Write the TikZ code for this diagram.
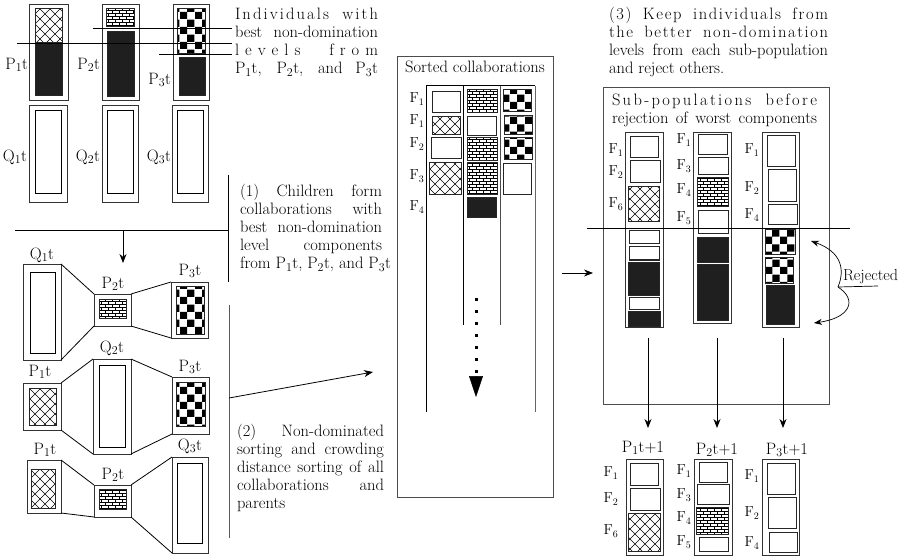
\documentclass[tikz,border=0pt]{standalone}
\usepackage{fontspec}
\usetikzlibrary{patterns,arrows.meta,fit}
\pgfdeclarepatternformonly{xhatch}{\pgfpoint{-1pt}{-1pt}}{\pgfpoint{11pt}{11pt}}{\pgfpoint{10pt}{10pt}}{%
  \pgfsetlinewidth{0.45pt}%
  \pgfpathmoveto{\pgfpoint{0pt}{0pt}}\pgfpathlineto{\pgfpoint{10pt}{10pt}}%
  \pgfpathmoveto{\pgfpoint{0pt}{10pt}}\pgfpathlineto{\pgfpoint{10pt}{0pt}}%
  \pgfusepath{stroke}}
\pgfdeclarepatternformonly{mybricks}{\pgfpoint{-0.5pt}{-0.5pt}}{\pgfpoint{7.5pt}{6.5pt}}{\pgfpoint{7pt}{6pt}}{%
  \pgfsetlinewidth{0.75pt}%
  \pgfpathmoveto{\pgfpoint{0pt}{0pt}}\pgfpathlineto{\pgfpoint{7pt}{0pt}}%
  \pgfpathmoveto{\pgfpoint{0pt}{3pt}}\pgfpathlineto{\pgfpoint{7pt}{3pt}}%
  \pgfpathmoveto{\pgfpoint{0pt}{0pt}}\pgfpathlineto{\pgfpoint{0pt}{3pt}}%
  \pgfpathmoveto{\pgfpoint{3.5pt}{3pt}}\pgfpathlineto{\pgfpoint{3.5pt}{6pt}}%
  \pgfusepath{stroke}}
\pgfdeclarepatternformonly{mychecker}{\pgfpointorigin}{\pgfpoint{15pt}{15pt}}{\pgfpoint{15pt}{15pt}}{%
  \pgfpathrectangle{\pgfpointorigin}{\pgfpoint{7.5pt}{7.5pt}}%
  \pgfpathrectangle{\pgfpoint{7.5pt}{7.5pt}}{\pgfpoint{7.5pt}{7.5pt}}%
  \pgfusepath{fill}}
\ExplSyntaxOn
\cs_new:Npn \mylsitem:n #1 { #1 \skip_horizontal:n { 0pt plus 1fil } }
\NewDocumentCommand \LS { m } { \tl_map_function:nN { #1 } \mylsitem:n \unskip }
\ExplSyntaxOff
\newcommand\WS{\hskip 5pt plus 4fil\relax}
\newcommand\bx[6][]{%
  \coordinate (#2-a) at (#3,#4);
  \coordinate (#2-b) at (#5,#6);
  \node[fit=(#2-a)(#2-b), #1] (#2) {};}
\begin{document}
\begin{tikzpicture}[x=1pt,y=-1pt,
  every node/.style={inner sep=0pt, outer sep=0pt},
  txt/.style={font=\fontsize{16.5}{18}\selectfont, anchor=north west, align=left},
  lab/.style={font=\fontsize{16.5}{18}\selectfont},
  flab/.style={font=\fontsize{14.5}{16}\selectfont},
  obox/.style={draw=black!80, line width=0.7pt},
  ibox/.style={draw=black, line width=1pt},
  ebox/.style={draw=black!85, line width=1pt},
  kbox/.style={ebox, fill=black!88},
  xbox/.style={ebox, pattern=xhatch},
  rbox/.style={ebox, pattern=mybricks},
  qbox/.style={ebox, pattern=mychecker},
  ln/.style={line width=0.8pt},
  arr/.style={line width=0.8pt, -{Stealth[length=9pt,width=7pt]}},
]
\useasboundingbox (0,0) rectangle (914,559);

% ---------- top-left populations ----------
\bx[obox]{p1}{29}{4}{68}{100}
\bx[xbox]{p1x}{35}{9}{62}{43}
\bx[kbox]{p1k}{35}{44}{62}{96}
\bx[obox]{p2}{102}{4}{139}{100}
\bx[rbox]{p2r}{106}{9}{134}{27}
\bx[kbox]{p2k}{107}{32}{134}{97}
\bx[obox]{p3}{173}{4}{209}{100}
\bx[qbox]{p3q}{177}{9}{205}{54}
\bx[kbox]{p3k}{179}{58}{205}{96}
\bx[obox]{q1}{29}{105}{67}{202}
\bx[ibox]{q1i}{35}{111}{61}{194}
\bx[obox]{q2}{102}{105}{138}{202}
\bx[ibox]{q2i}{107}{111}{133}{194}
\bx[obox]{q3}{172}{105}{208}{202}
\bx[ibox]{q3i}{177}{111}{203}{194}
\node[lab,anchor=east] (lp1) at (28,65) {P$_1$t};
\node[lab,anchor=east] (lp2) at (100,65) {P$_2$t};
\node[lab,anchor=east] (lp3) at (171,80) {P$_3$t};
\node[lab,anchor=east] (lq1) at (27,157) {Q$_1$t};
\node[lab,anchor=east] (lq2) at (100,157) {Q$_2$t};
\node[lab,anchor=east] (lq3) at (171,157) {Q$_3$t};

\node[txt] (indiv) at (235,8.5) {\makebox[143pt][s]{\LS{Individuals}\WS\LS{with}}\\
  \makebox[143pt][s]{best non-domination}\\
  \makebox[143pt][s]{\LS{levels}\WS\LS{from}}\\
  \makebox[143pt][s]{P$_1$t, P$_2$t, and P$_3$t}};
\coordinate (pe) at ([xshift=-3pt]indiv.west);
\coordinate (pa) at (93,28);
\coordinate (pb) at (17,43);
\coordinate (pc) at (159,54);
\draw[ln] (pa) -- (pa -| pe);
\draw[ln] (pb) -- (pb -| pe);
\draw[ln] (pc) -- (pc -| pe);

% ---------- step (1) ----------
\node[txt] (coll) at (240,184.6) {\makebox[142pt][s]{(1) Children form}\\
  \makebox[142pt][s]{collaborations with}\\
  \makebox[142pt][s]{best non-domination}\\
  \makebox[142pt][s]{level components}\\
  from P$_1$t, P$_2$t, and P$_3$t};
\coordinate (c1top) at (228,175);
\coordinate (c1bot) at (228,282);
\coordinate (c1l) at (15,230);
\coordinate (c1r) at (228,230);
\coordinate (c1a) at (123,230);
\coordinate (c1b) at (123,263);
\draw[ln] (c1top) -- (c1bot);
\draw[ln] (c1l) -- (c1r);
\draw[arr] (c1a) -- (c1b);

% ---------- collaborations ----------
\bx[obox]{a1}{23}{264}{61}{360}
\bx[ibox]{a1i}{30}{272}{55}{353}
\bx[obox]{a2}{94}{294}{131}{326}
\bx[rbox]{a2i}{99}{299}{126}{318}
\bx[obox]{a3}{171}{282}{208}{338}
\bx[qbox]{a3i}{176}{286}{204}{334}
\node[lab] (la1) at (42,255) {Q$_1$t};
\node[lab] (la2) at (113,284) {P$_2$t};
\node[lab] (la3) at (190,271) {P$_3$t};
\draw[ln] (a1.north east) -- (a2.north west);
\draw[ln] (a1.south east) -- (a2.south west);
\draw[ln] (a2.north east) -- (a3.north west);
\draw[ln] (a2.south east) -- (a3.south west);

\bx[obox]{b1}{23}{383}{61}{430}
\bx[xbox]{b1i}{29}{388}{56}{425}
\bx[obox]{b2}{93}{359}{131}{454}
\bx[ibox]{b2i}{99}{365}{125}{447}
\bx[obox]{b3}{172}{377}{209}{434}
\bx[qbox]{b3i}{176}{382}{205}{426}
\node[lab] (lb1) at (40,372) {P$_1$t};
\node[lab] (lb2) at (112,348) {Q$_2$t};
\node[lab] (lb3) at (190,367) {P$_3$t};
\draw[ln] (b1.north east) -- (b2.north west);
\draw[ln] (b1.south east) -- (b2.south west);
\draw[ln] (b2.north east) -- (b3.north west);
\draw[ln] (b2.south east) -- (b3.south west);

\bx[obox]{e1}{27}{460}{61}{513}
\bx[xbox]{e1i}{31}{469}{55}{508}
\bx[obox]{e2}{94}{485}{131}{517}
\bx[rbox]{e2i}{99}{489}{126}{509}
\bx[obox]{e3}{172}{457}{208}{553}
\bx[ibox]{e3i}{177}{463}{202}{543}
\node[lab] (le1) at (45,450) {P$_1$t};
\node[lab] (le2) at (113,475) {P$_2$t};
\node[lab] (le3) at (190,446) {Q$_3$t};
\draw[ln] (e1.north east) -- (e2.north west);
\draw[ln] (e1.south east) -- (e2.south west);
\draw[ln] (e2.north east) -- (e3.north west);
\draw[ln] (e2.south east) -- (e3.south west);

% ---------- step (2) ----------
\node[txt] (sortxt) at (237,424.6) {\makebox[147pt][s]{(2) Non-dominated}\\
  \makebox[147pt][s]{sorting and crowding}\\
  \makebox[147pt][s]{distance sorting of all}\\
  \makebox[147pt][s]{collaborations and}\\
  parents};
\coordinate (c2top) at (229,305);
\coordinate (c2bot) at (229,538);
\coordinate (c2m) at (229,398);
\coordinate (c2e) at (373,372);
\draw[ln, black!65] (c2top) -- (c2bot);
\draw[arr] (c2m) -- (c2e);

% ---------- sorted collaborations ----------
\bx[draw=black!70, line width=0.8pt]{sorted}{397}{56}{553}{497}
\node[lab, anchor=base] (sortt) at (475,73) {Sorted collaborations};
\draw[line width=1pt] (426,412) -- (426,86) -- (535,86);
\draw[line width=1pt] (463,86) -- (463,325);
\draw[line width=1pt, black!70] (500,86) -- (500,325);
\draw[line width=1pt, black!60] (535,86) -- (535,412);
\bx[ebox]{m11}{432}{92}{460}{113}
\bx[xbox]{m12}{432}{117}{460}{135}
\bx[ebox]{m13}{431}{138}{461}{159}
\bx[xbox]{m14}{429}{163}{461}{195}
\bx[rbox]{m21}{467}{90}{497}{113}
\bx[ebox]{m22}{467}{117}{496}{136}
\bx[rbox]{m23}{467}{138}{497}{161}
\bx[rbox]{m24}{467}{163}{497}{195}
\bx[kbox]{m25}{467}{198}{496}{218}
\bx[qbox]{m31}{503}{90}{531}{112}
\bx[qbox]{m32}{504}{116}{532}{135}
\bx[qbox]{m33}{504}{138}{532}{160}
\bx[ebox]{m34}{503}{164}{531}{195}
\node[flab] (mf1) at (417,99) {F$_1$};
\node[flab] (mf2) at (417,121) {F$_1$};
\node[flab] (mf3) at (417,144) {F$_2$};
\node[flab] (mf4) at (417,176) {F$_3$};
\node[flab] (mf5) at (417,207) {F$_4$};
\coordinate (dotS) at (476,298);
\coordinate (dotM) at (476,376);
\coordinate (dotE) at (476,397);
\draw[line width=3pt, dash pattern=on 3pt off 9pt] (dotS) -- (dotM);
\draw[line width=0.5pt, -{Triangle[length=21pt,width=14pt]}] (dotM) -- (dotE);

\coordinate (r1) at (562,273);
\coordinate (r2) at (593,273);
\draw[arr] (r1) -- (r2);

% ---------- step (3) ----------
\node[txt] (keep) at (609,7.6) {\makebox[219pt][s]{\LS{(3)}\WS\LS{Keep}\WS\LS{individuals}\WS\LS{from}}\\
  \makebox[219pt][s]{\LS{the}\WS\LS{better}\WS\LS{non-domination}}\\
  \makebox[219pt][s]{levels from each sub-population}\\
  and reject others.};
\bx[draw=black!70, line width=0.8pt]{subpop}{603}{87}{829}{404}
\node[txt] (subt) at (612,93.5) {\makebox[205pt][s]{\LS{Sub-populations}\WS\LS{before}}\\
  \makebox[205pt][s]{rejection of worst components}};

\bx[obox]{s1}{625}{132}{663}{327}
\bx[ebox]{s11}{630}{137}{658}{158}
\bx[ebox]{s12}{630}{161}{660}{183}
\bx[xbox]{s13}{628}{187}{659}{222}
\bx[ebox]{s14}{629}{231}{659}{244}
\bx[ebox]{s15}{629}{247}{659}{260}
\bx[kbox]{s16}{628}{262}{659}{295}
\bx[ebox]{s17}{629}{297}{659}{309}
\bx[kbox]{s18}{628}{311}{660}{326}
\node[flab] (sf11) at (616,150) {F$_1$};
\node[flab] (sf12) at (616,172) {F$_2$};
\node[flab] (sf13) at (616,204) {F$_6$};

\bx[obox]{s2}{693}{132}{731}{323}
\bx[ebox]{s21}{698}{135}{727}{155}
\bx[ebox]{s22}{698}{158}{728}{175}
\bx[rbox]{s23}{697}{178}{728}{207}
\bx[ebox]{s24}{698}{211}{728}{234}
\bx[kbox]{s25}{697}{238}{728}{262}
\bx[kbox]{s26}{697}{264}{728}{320}
\node[flab] (sf21) at (684,140) {F$_1$};
\node[flab] (sf22) at (684,166) {F$_3$};
\node[flab] (sf23) at (684,190) {F$_4$};
\node[flab] (sf24) at (684,218) {F$_5$};

\bx[obox]{s3}{762}{132}{799}{327}
\bx[ebox]{s31}{767}{136}{795}{167}
\bx[ebox]{s32}{768}{170}{796}{202}
\bx[ebox]{s33}{768}{205}{797}{225}
\bx[qbox]{s34}{765}{230}{795}{255}
\bx[qbox]{s35}{765}{258}{793}{283}
\bx[kbox]{s36}{766}{285}{794}{324}
\node[flab] (sf31) at (752,150) {F$_1$};
\node[flab] (sf32) at (752,188) {F$_2$};
\node[flab] (sf33) at (752,215) {F$_4$};

\coordinate (cutL) at (587,228);
\coordinate (cutR) at (850,228);
\draw[ln] (cutL) -- (cutR);

% Rejected brace
\node[font=\fontsize{16}{18}\selectfont, anchor=base west] (rej) at (843,280) {Rejected};
\coordinate (cusp) at (838,287);
\coordinate (rt) at (811,241);
\coordinate (rb) at (814,323);
\coordinate (stub) at (878,286);
\draw[line width=0.7pt, -{Stealth[length=8pt,width=6pt]}] (cusp) .. controls (845,270) and (842,252) .. (rt);
\draw[line width=0.7pt, -{Stealth[length=8pt,width=6pt]}] (cusp) .. controls (858,300) and (850,318) .. (rb);
\draw[line width=0.7pt] (cusp) -- (stub);

% down arrows
\coordinate (d1s) at (648,338); \coordinate (d1e) at (648,428);
\coordinate (d2s) at (717,338); \coordinate (d2e) at (717,428);
\coordinate (d3s) at (783,338); \coordinate (d3e) at (783,428);
\draw[arr] (d1s) -- (d1e);
\draw[arr] (d2s) -- (d2e);
\draw[arr] (d3s) -- (d3e);

% ---------- next generation ----------
\node[lab] (n1) at (643,448) {P$_1$t+1};
\node[lab] (n2) at (717,450) {P$_2$t+1};
\node[lab] (n3) at (787,450) {P$_3$t+1};

\bx[obox]{t1}{626}{459}{663}{555}
\bx[ebox]{t11}{630}{463}{658}{485}
\bx[ebox]{t12}{630}{488}{660}{510}
\bx[xbox]{t13}{628}{513}{660}{551}
\node[flab] (tf11) at (611,473) {F$_1$};
\node[flab] (tf12) at (611,499) {F$_2$};
\node[flab] (tf13) at (611,531) {F$_6$};

\bx[obox]{t2}{694}{459}{732}{555}
\bx[ebox]{t21}{699}{462}{727}{482}
\bx[ebox]{t22}{697}{484}{729}{504}
\bx[rbox]{t23}{696}{507}{728}{534}
\bx[ebox]{t24}{699}{537}{728}{551}
\node[flab] (tf21) at (684,471) {F$_1$};
\node[flab] (tf22) at (684,495) {F$_3$};
\node[flab] (tf23) at (684,518) {F$_4$};
\node[flab] (tf24) at (684,542) {F$_5$};

\bx[obox]{t3}{762}{459}{799}{555}
\bx[ebox]{t31}{767}{463}{795}{494}
\bx[ebox]{t32}{768}{497}{796}{528}
\bx[ebox]{t33}{769}{532}{797}{552}
\node[flab] (tf31) at (752,476) {F$_1$};
\node[flab] (tf32) at (752,513) {F$_2$};
\node[flab] (tf33) at (752,543) {F$_4$};
\end{tikzpicture}
\end{document}
